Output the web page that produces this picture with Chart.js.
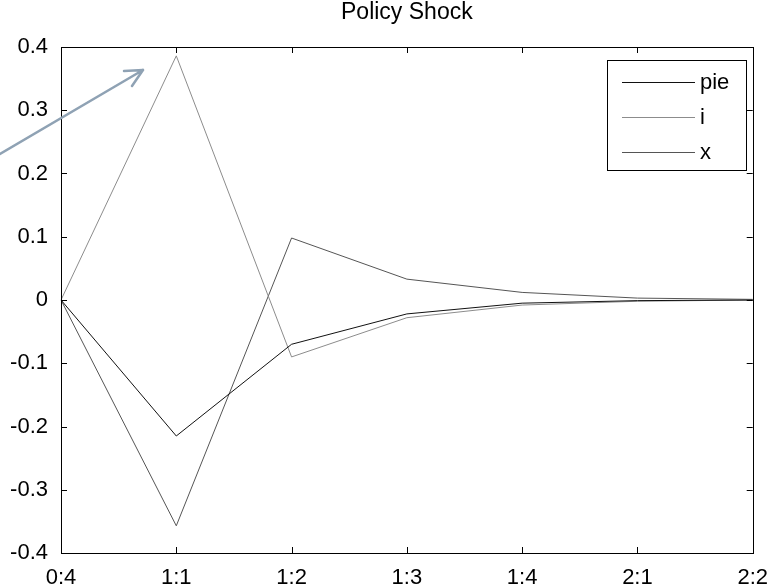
<!DOCTYPE html>
<html>
<head>
<meta charset="utf-8">
<style>
  html, body { margin: 0; padding: 0; background: #fff; }
  #wrap { width: 772px; height: 585px; }
</style>
<script src="https://cdn.jsdelivr.net/npm/chart.js@4"></script>
</head>
<body>
<div id="wrap"><canvas id="shockChart" width="772" height="585"></canvas></div>
<script>
// data
const periods = ['0:4', '1:1', '1:2', '1:3', '1:4', '2:1', '2:2'];
const pie = [0, -0.215, -0.07, -0.022, -0.005, -0.001, 0];
const iRate = [0, 0.386, -0.09, -0.028, -0.008, -0.002, 0];
const xGap = [0, -0.357, 0.098, 0.033, 0.012, 0.003, 0.001];
const yTicks = [-0.4, -0.3, -0.2, -0.1, 0, 0.1, 0.2, 0.3, 0.4];

const FONT = '"Liberation Sans", Arial, sans-serif';

// matlab-ish frame: box, inward ticks, title, legend and the arrow
const matlabFrame = {
  id: 'matlabFrame',
  afterDraw(chart) {
    const c = chart.ctx;
    const a = chart.chartArea;
    const xs = chart.scales.x, ys = chart.scales.y;
    c.save();
    c.strokeStyle = '#000';
    c.lineWidth = 1;
    c.strokeRect(Math.round(a.left) + 0.5, Math.round(a.top) + 0.5,
      Math.round(a.right - a.left), Math.round(a.bottom - a.top));
    c.beginPath();
    periods.forEach((p, k) => {
      const px = Math.round(xs.getPixelForValue(k)) + 0.5;
      c.moveTo(px, a.bottom); c.lineTo(px, a.bottom - 6);
      c.moveTo(px, a.top); c.lineTo(px, a.top + 6);
    });
    yTicks.forEach(v => {
      const py = Math.round(ys.getPixelForValue(v)) + 0.5;
      c.moveTo(a.left, py); c.lineTo(a.left + 6, py);
      c.moveTo(a.right, py); c.lineTo(a.right - 6, py);
    });
    c.stroke();

    // title
    c.fillStyle = '#000';
    c.font = '23px ' + FONT;
    c.textAlign = 'center';
    c.textBaseline = 'middle';
    c.fillText('Policy Shock', (a.left + a.right) / 2, 13);

    // legend
    const lx = 607, ly = 60, lw = 139, lh = 110;
    c.fillStyle = '#fff';
    c.fillRect(lx, ly, lw, lh);
    c.strokeStyle = '#000';
    c.strokeRect(lx + 0.5, ly + 0.5, lw, lh);
    c.font = '22px ' + FONT;
    c.textAlign = 'left';
    chart.data.datasets.forEach((ds, k) => {
      const yy = ly + 22 + k * 35;
      c.strokeStyle = ds.borderColor;
      c.lineWidth = 1;
      c.beginPath();
      c.moveTo(lx + 15, yy + 0.5); c.lineTo(lx + 88, yy + 0.5);
      c.stroke();
      c.fillStyle = '#000';
      c.fillText(ds.label, lx + 93, yy + 1);
    });

    // annotation arrow
    c.strokeStyle = '#8fa2b4';
    c.lineWidth = 2.5;
    c.lineCap = 'round';
    c.beginPath();
    c.moveTo(0, 154); c.lineTo(143, 70);
    c.moveTo(143, 70); c.lineTo(124, 71);
    c.moveTo(143, 70); c.lineTo(132, 86);
    c.stroke();
    c.restore();
  }
};

const ctx = document.getElementById('shockChart').getContext('2d');
const shockChart = new Chart(ctx, {
  type: 'line',
  data: {
    labels: periods,
    datasets: [
      { label: 'pie', data: pie, borderColor: '#111', borderWidth: 1 },
      { label: 'i', data: iRate, borderColor: '#8c8c8c', borderWidth: 1 },
      { label: 'x', data: xGap, borderColor: '#555', borderWidth: 1 }
    ]
  },
  options: {
    responsive: false,
    animation: false,
    layout: { padding: { top: 47, right: 12, left: 0, bottom: 0 } },
    elements: { point: { radius: 0 }, line: { tension: 0 } },
    plugins: { legend: { display: false }, title: { display: false }, tooltip: { enabled: false } },
    scales: {
      x: {
        type: 'category',
        offset: false,
        grid: { display: false },
        border: { display: false },
        ticks: { color: '#000', font: { family: FONT, size: 22 }, maxRotation: 0, autoSkip: false, padding: 4 },
        afterFit(s) { s.height = 32; }
      },
      y: {
        min: -0.4,
        max: 0.4,
        grid: { display: false },
        border: { display: false },
        afterBuildTicks(s) { s.ticks = yTicks.map(v => ({ value: v })); },
        ticks: {
          color: '#000',
          font: { family: FONT, size: 22 },
          padding: 5,
          callback: v => String(Math.round(v * 10) / 10)
        },
        afterFit(s) { s.width = 61; }
      }
    }
  },
  plugins: [matlabFrame]
});
</script>
</body>
</html>
